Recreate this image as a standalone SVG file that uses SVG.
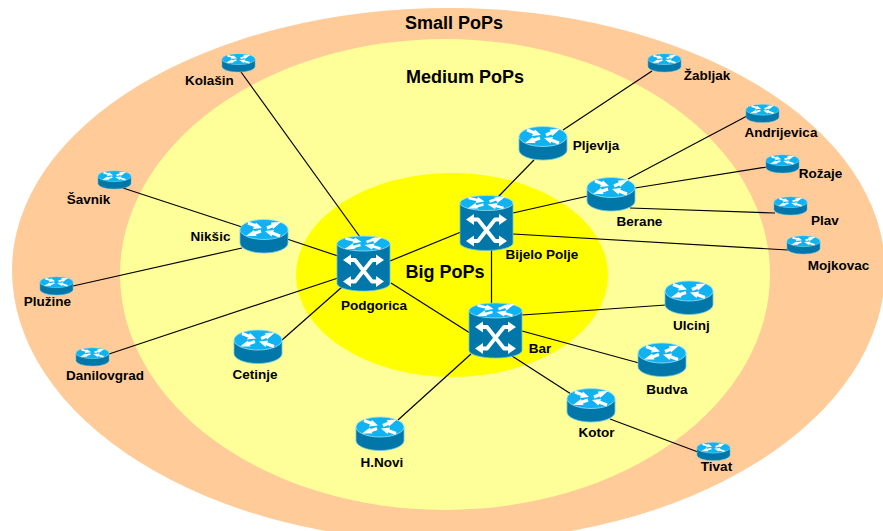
<svg xmlns="http://www.w3.org/2000/svg" width="883" height="531" viewBox="0 0 883 531">
<style>
text{font-family:"Liberation Sans",Arial,sans-serif;font-weight:bold;font-size:13.500px;fill:#000;text-anchor:middle}
.t{font-size:18px}
.c line{stroke:#000;stroke-width:1.200}
.d{fill:#0077a8;stroke:#6cc4e4;stroke-width:.8}
.l{fill:#0fb3f2;stroke:#9adff5;stroke-width:.8}
.w{fill:#fff}
.a{fill:none;stroke:#fff;stroke-width:3.200}
.x{fill:none;stroke:#fff;stroke-width:3.800;stroke-linejoin:round}
</style>
<defs>
<g id="r">
<path class="d" d="M-24-7V6.500A24 10 0 0 0 24 6.500V-7Z"/>
<ellipse class="l" cx="0" cy="-7" rx="24" ry="10"/>
<path class="a" d="M-16-13.500L-8-10.500M9-11.500L12-12.500M-3-5.500L-10-3M16-.5L8-3.500M3-8.500L9-11"/>
<path class="w" d="M-2-8.500L-11-7.500-8-14ZM17-14.500L9-7.500 7-14ZM-18-.5L-10-6.500-7.500-.5ZM1-5.500L10-6.500 7.500 0Z"/>
</g>
<g id="s">
<path class="d" d="M-26.500-20V20A26.500 7.500 0 0 0 26.500 20V-20Z"/>
<ellipse class="l" cx="0" cy="-20" rx="26.500" ry="7.500"/>
<path class="a" stroke-width="2.400" style="stroke-width:2.400px" d="M-18-25L-9-23M3-21.500L13-25M-3-18.500L-12-16M17-15L8-17.500"/>
<path class="w" d="M-2-21.500L-11-20-8.500-26ZM19-26.500L11-20 8-25.500ZM-19-14.500L-11-20-8.500-14.500ZM1-18.500L11-20 8.500-14Z"/>
<path class="x" d="M-14-3.500H-8.500L8.500 18H14M14-3.500H8.500L-8.500 18H-14"/>
<path class="w" d="M-20.500-3.500l8-5.500v11ZM20.500-3.500l-8-5.500v11ZM-20.500 18l8-5.500v11ZM20.500 18l-8-5.500v11Z"/>
</g>
</defs>
<path d="M12 270A436.500 262 0 0 1 885 270A436.500 272 0 0 1 12 270Z" fill="#ffcc99"/>
<ellipse cx="445" cy="274.500" rx="325" ry="235.500" fill="#ffff99"/>
<ellipse cx="452" cy="275" rx="156" ry="102" fill="#ffff00"/>
<g class="c" id="connectors">
<line x1="241" y1="72" x2="360" y2="237"/>
<line x1="287" y1="239" x2="338" y2="256"/>
<line x1="123" y1="188" x2="242" y2="227"/>
<line x1="73" y1="286" x2="242" y2="248"/>
<line x1="109" y1="354" x2="338" y2="278"/>
<line x1="282" y1="340" x2="342" y2="287"/>
<line x1="390" y1="261" x2="461" y2="232"/>
<line x1="391" y1="283" x2="470" y2="333"/>
<line x1="491.500" y1="250" x2="491.500" y2="304"/>
<line x1="498" y1="197" x2="534" y2="160"/>
<line x1="563" y1="130" x2="652" y2="71"/>
<line x1="513" y1="213" x2="588" y2="196"/>
<line x1="628" y1="179" x2="747" y2="116"/>
<line x1="635" y1="188" x2="767" y2="167"/>
<line x1="630" y1="208" x2="775" y2="213"/>
<line x1="513" y1="234" x2="788" y2="250"/>
<line x1="522" y1="315" x2="666" y2="305"/>
<line x1="522" y1="331" x2="639" y2="363"/>
<line x1="512" y1="356" x2="571" y2="394"/>
<line x1="610" y1="419" x2="698" y2="452"/>
<line x1="471" y1="354" x2="398" y2="420"/>
</g>
<text class="t" x="454" y="29">Small PoPs</text>
<text class="t" x="465" y="83">Medium PoPs</text>
<text class="t" x="445" y="278">Big PoPs</text>
<g id="podgorica"><use href="#s" x="363.500" y="263.500"/><text x="374" y="310">Podgorica</text></g>
<g id="bijelo-polje"><use href="#s" x="486.500" y="223"/><text x="542" y="259">Bijelo Polje</text></g>
<g id="bar"><use href="#s" x="495.500" y="330.500"/><text x="540" y="353">Bar</text></g>
<g id="niksic"><use href="#r" x="264" y="236.500"/><text x="210.500" y="240.500">Nikšic</text></g>
<g id="cetinje"><use href="#r" x="258" y="347"/><text x="255" y="379">Cetinje</text></g>
<g id="hnovi"><use href="#r" x="380" y="434"/><text x="382" y="467">H.Novi</text></g>
<g id="kotor"><use href="#r" x="591" y="405.500"/><text x="596.500" y="437">Kotor</text></g>
<g id="budva"><use href="#r" x="662" y="360"/><text x="667" y="394">Budva</text></g>
<g id="ulcinj"><use href="#r" x="689" y="298"/><text x="691.500" y="330">Ulcinj</text></g>
<g id="berane"><use href="#r" x="611" y="194.500"/><text x="639.500" y="226">Berane</text></g>
<g id="pljevlja"><use href="#r" x="543" y="143.500"/><text x="596" y="150">Pljevlja</text></g>
<g id="kolasin"><g transform="translate(238.500 63) scale(.69 .55)"><use href="#r"/></g><text x="209.500" y="85">Kolašin</text></g>
<g id="zabljak"><g transform="translate(664.500 63) scale(.69 .55)"><use href="#r"/></g><text x="707" y="80">Žabljak</text></g>
<g id="andrijevica"><g transform="translate(762.500 113.500) scale(.69 .55)"><use href="#r"/></g><text x="781" y="137">Andrijevica</text></g>
<g id="rozaje"><g transform="translate(782.500 164) scale(.69 .55)"><use href="#r"/></g><text x="820.500" y="178">Rožaje</text></g>
<g id="plav"><g transform="translate(790.500 206) scale(.69 .55)"><use href="#r"/></g><text x="825" y="225">Plav</text></g>
<g id="mojkovac"><g transform="translate(803.500 245) scale(.69 .55)"><use href="#r"/></g><text x="838.500" y="270">Mojkovac</text></g>
<g id="tivat"><g transform="translate(713.500 451.500) scale(.69 .55)"><use href="#r"/></g><text x="716.500" y="471">Tivat</text></g>
<g id="savnik"><g transform="translate(114.500 180) scale(.69 .55)"><use href="#r"/></g><text x="88.500" y="204">Šavnik</text></g>
<g id="pluzine"><g transform="translate(56.500 286) scale(.69 .55)"><use href="#r"/></g><text x="47.500" y="306">Plužine</text></g>
<g id="danilovgrad"><g transform="translate(92.500 357) scale(.69 .55)"><use href="#r"/></g><text x="105" y="380">Danilovgrad</text></g>
</svg>
